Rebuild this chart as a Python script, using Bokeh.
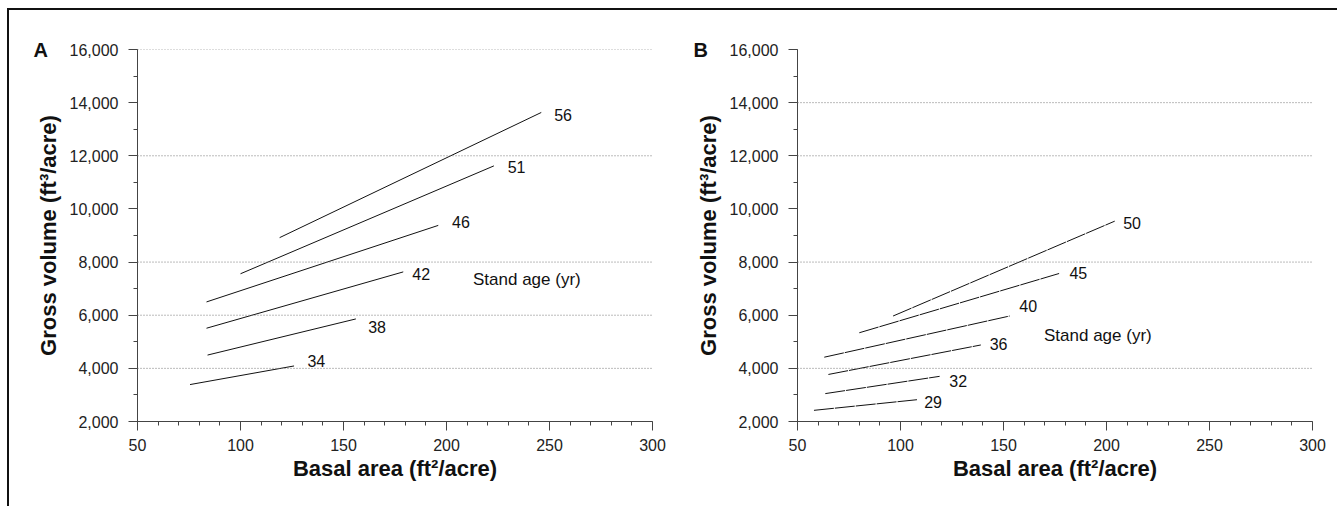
from bokeh.plotting import figure
from bokeh.models import ColumnDataSource, Span, Label, Range1d, FixedTicker, NumeralTickFormatter
from bokeh.layouts import row
from bokeh.embed import file_html
from bokeh.resources import INLINE
from bokeh.core.properties import value

# ---- Data ----
# Panel A
ages_a = ["56", "51", "46", "42", "38", "34"]
ba0_a = [119, 100, 83.5, 83.5, 84, 75.5]
ba1_a = [246, 223, 196, 179, 156, 126]
vol0_a = [8920, 7560, 6500, 5510, 4500, 3390]
vol1_a = [13630, 11620, 9380, 7630, 5860, 4090]
lab_x_a = [256.6, 234, 207, 187.7, 166.3, 136.8]
lab_y_a = [13540, 11570, 9510, 7540, 5550, 4290]
grid_a = [4000, 6000, 8000, 12000, 16000]

# Panel B
ages_b = ["50", "45", "40", "36", "32", "29"]
ba0_b = [96.4, 80, 63, 65, 63.5, 58]
ba1_b = [204, 177, 153, 139, 119, 108]
vol0_b = [5970, 5340, 4420, 3770, 3050, 2420]
vol1_b = [9540, 7570, 5970, 4880, 3700, 2820]
lab_x_b = [212.4, 186.3, 162, 147.6, 128, 115.8]
lab_y_b = [9470, 7570, 6330, 4900, 3510, 2740]
grid_b = [4000, 8000, 12000, 14000]

stand_a = (239, 7340)
stand_b = (195.8, 5240)

y_ticks = [2000, 4000, 6000, 8000, 10000, 12000, 14000, 16000]
x_ticks = [50, 100, 150, 200, 250, 300]

FONT = "Liberation Sans"


def make_panel(letter, ages, ba0, ba1, vol0, vol1, lx, ly, grid, stand, dash, left_border, width):
    p = figure(width=width, height=496, output_backend="svg", toolbar_location=None,
               x_range=Range1d(50, 300), y_range=Range1d(2000, 16000),
               min_border_left=left_border, min_border_top=39,
               min_border_bottom=85, min_border_right=width - left_border - 515)
    p.outline_line_color = None
    p.grid.grid_line_color = None
    p.background_fill_color = "white"
    p.border_fill_color = "white"

    p.title.text = letter
    p.title.align = "left"
    p.title.offset = -104
    p.title.standoff = -22
    p.title.vertical_align = "bottom"
    p.title.text_font = FONT
    p.title.text_font_size = "20px"
    p.title.text_font_style = "bold"
    p.title.text_color = "#111111"

    for g in grid:
        p.add_layout(Span(location=g, dimension="width", line_color="#777777",
                          line_width=1, line_dash="1 2"))

    src = ColumnDataSource(dict(x0=ba0, x1=ba1, y0=vol0, y1=vol1))
    p.segment(x0="x0", y0="y0", x1="x1", y1="y1", source=src,
              line_color="#111111", line_width=1, line_dash=dash)

    lsrc = ColumnDataSource(dict(x=lx, y=ly, t=ages))
    p.text(x="x", y="y", text="t", source=lsrc, text_font=value(FONT),
           text_font_size="16px", text_align="center", text_baseline="middle",
           text_color="#111111")

    p.add_layout(Label(x=stand[0], y=stand[1], text="Stand age (yr)", text_font=FONT,
                       text_font_size="17px", text_align="center", text_baseline="middle",
                       text_color="#111111"))

    for ax in (p.xaxis[0], p.yaxis[0]):
        ax.axis_line_color = "#444444"
        ax.major_tick_line_color = "#444444"
        ax.minor_tick_line_color = "#444444"
        ax.major_tick_out = 9
        ax.major_tick_in = 0
        ax.minor_tick_out = 4
        ax.minor_tick_in = 0
        ax.major_label_text_font = FONT
        ax.major_label_text_font_size = "16px"
        ax.major_label_text_color = "#222222"
        ax.axis_label_text_font = FONT
        ax.axis_label_text_font_size = "22px"
        ax.axis_label_text_font_style = "bold"
        ax.axis_label_text_color = "#111111"

    p.xaxis.ticker = FixedTicker(ticks=x_ticks, minor_ticks=list(range(50, 301, 10)))
    p.yaxis.ticker = FixedTicker(ticks=y_ticks, minor_ticks=list(range(2000, 16001, 1000)))
    p.yaxis.formatter = NumeralTickFormatter(format="0,0")
    p.xaxis.axis_label = "Basal area (ft²/acre)"
    p.yaxis.axis_label = "Gross volume (ft³/acre)"
    p.xaxis.major_label_standoff = 8
    p.xaxis.axis_label_standoff = 2
    p.yaxis.major_label_standoff = 10
    p.yaxis.axis_label_standoff = 6
    return p


pa = make_panel("A", ages_a, ba0_a, ba1_a, vol0_a, vol1_a, lab_x_a, lab_y_a,
                grid_a, stand_a, "solid", 128, 659)
pb = make_panel("B", ages_b, ba0_b, ba1_b, vol0_b, vol1_b, lab_x_b, lab_y_b,
                grid_b, stand_b, "20 1", 129, 669)

layout = row(pa, pb, styles={"border-top": "2px solid #111", "border-left": "2px solid #111",
                             "margin-left": "7px", "margin-top": "8px"})

open("out.html", "w").write(file_html(layout, INLINE))
